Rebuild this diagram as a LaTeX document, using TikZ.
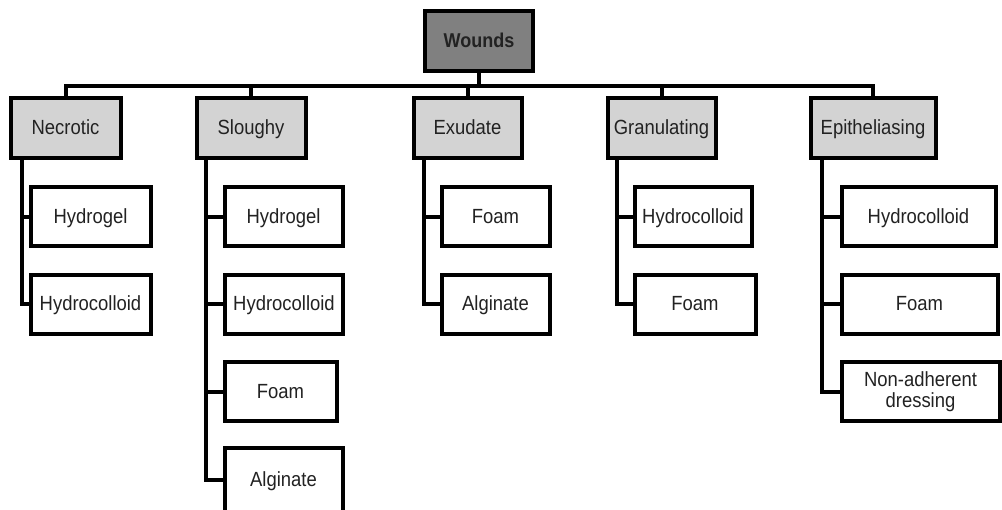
\documentclass[tikz,border=0pt]{standalone}
\usepackage{fontspec}
\setmainfont[FakeStretch=0.9]{Liberation Sans}
\definecolor{rootgray}{HTML}{808080}
\definecolor{catgray}{HTML}{D3D3D3}
\definecolor{txt}{HTML}{222222}
\tikzset{
  basebox/.style={draw=black, line width=4pt, inner sep=0pt, align=center,
    text=txt, font=\fontsize{20.5}{21}\selectfont},
  oneline/.style={text height=13pt, text depth=0pt},
  rootbox/.style={basebox, oneline, fill=rootgray, font=\fontsize{20}{21}\selectfont\bfseries,
    minimum width=108pt, minimum height=60pt},
  catbox/.style={basebox, oneline, fill=catgray, minimum height=60pt},
  multibox/.style={basebox, fill=white, minimum height=59pt},
  leafbox/.style={multibox, oneline}
}
\tikzset{conn/.style={line width=4pt, line join=miter}}
\begin{document}
\begin{tikzpicture}[x=1pt, y=-1pt]
\clip (0,0) rectangle (1002,510);
\fill[white] (0,0) rectangle (1002,510);
% root
\node[rootbox] (w) at (479,41) {Wounds};
\coordinate (bar) at (479,86);
% categories
\node[catbox, minimum width=110pt] (nec) at (65.5,128.5) {Necrotic};
\node[catbox, minimum width=109pt] (slo) at (251,128.5) {Sloughy};
\node[catbox, minimum width=108pt] (exu) at (467.5,128.5) {Exudate};
\node[catbox, minimum width=108pt] (gra) at (661.5,128.5) {Granulating};
\node[catbox, minimum width=125pt] (epi) at (873,128.5) {Epitheliasing};
% leaves
\node[leafbox, minimum width=120pt] (nec1) at (90.5,217) {Hydrogel};
\node[leafbox, minimum width=120pt] (nec2) at (90.5,304.5) {Hydrocolloid};
\node[leafbox, minimum width=118pt] (slo1) at (283.5,217) {Hydrogel};
\node[leafbox, minimum width=118pt] (slo2) at (284,304.5) {Hydrocolloid};
\node[leafbox, minimum width=112pt] (slo3) at (280.5,392) {Foam};
\node[leafbox, minimum width=118pt, minimum height=64pt] (slo4) at (283.5,480) {Alginate};
\node[leafbox, minimum width=108pt] (exu1) at (495.5,217) {Foam};
\node[leafbox, minimum width=108pt] (exu2) at (495.5,304.5) {Alginate};
\node[leafbox, minimum width=117pt] (gra1) at (693,217) {Hydrocolloid};
\node[leafbox, minimum width=121pt] (gra2) at (695,304.5) {Foam};
\node[leafbox, minimum width=154pt] (epi1) at (918.5,217) {Hydrocolloid};
\node[leafbox, minimum width=156pt] (epi2) at (919.5,304.5) {Foam};
\node[multibox, minimum width=158pt] (epi3) at (920.5,392) {Non-adherent\\dressing};
% tree connectors
\draw[conn] (w.south) -- (w.south |- bar) -| (nec.north);
\draw[conn] (w.south |- bar) -| (slo.north);
\draw[conn] (w.south |- bar) -| (exu.north);
\draw[conn] (w.south |- bar) -| (gra.north);
\draw[conn] (w.south |- bar) -| (epi.north);
% child connectors
\draw[conn] ([xshift=13pt]nec.south west) |- (nec1.west);
\draw[conn] ([xshift=13pt]nec.south west) |- (nec2.west);
\draw[conn] ([xshift=11pt]slo.south west) |- (slo1.west);
\draw[conn] ([xshift=11pt]slo.south west) |- (slo2.west);
\draw[conn] ([xshift=11pt]slo.south west) |- (slo3.west);
\draw[conn] ([xshift=11pt]slo.south west) |- (slo4.west);
\draw[conn] ([xshift=12pt]exu.south west) |- (exu1.west);
\draw[conn] ([xshift=12pt]exu.south west) |- (exu2.west);
\draw[conn] ([xshift=11pt]gra.south west) |- (gra1.west);
\draw[conn] ([xshift=11pt]gra.south west) |- (gra2.west);
\draw[conn] ([xshift=13pt]epi.south west) |- (epi1.west);
\draw[conn] ([xshift=13pt]epi.south west) |- (epi2.west);
\draw[conn] ([xshift=13pt]epi.south west) |- (epi3.west);
\end{tikzpicture}
\end{document}
